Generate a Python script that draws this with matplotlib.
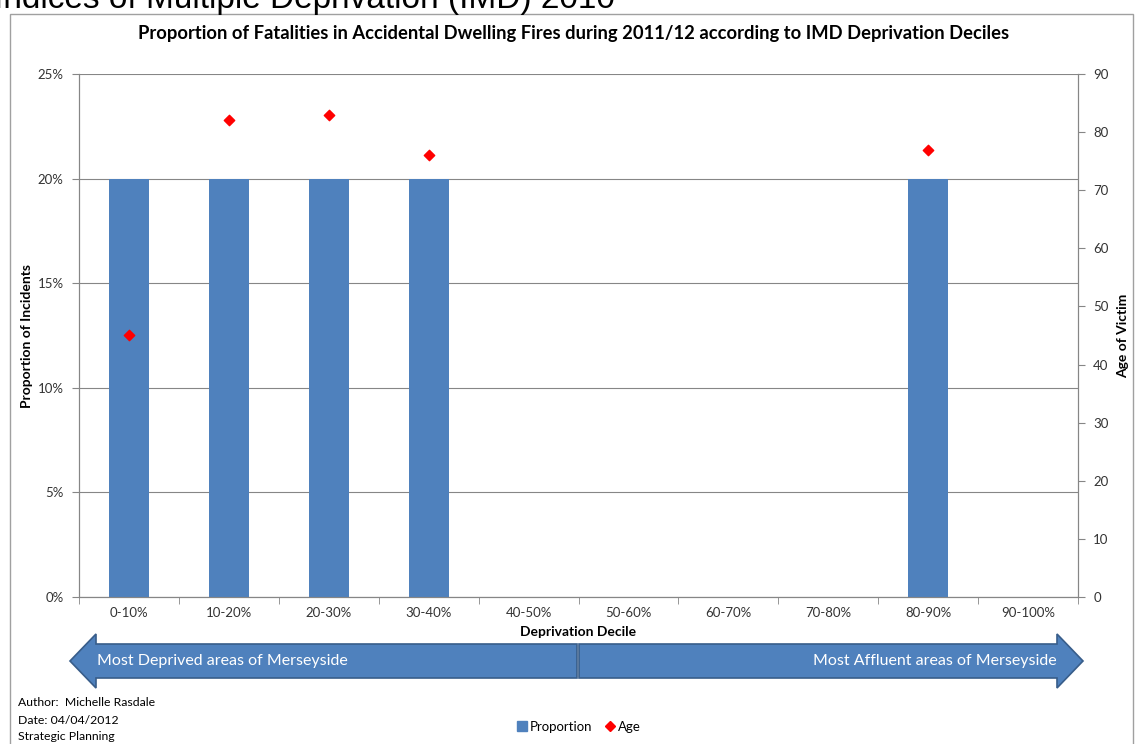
import matplotlib.pyplot as plt
from matplotlib.patches import FancyArrow, Rectangle
from matplotlib.lines import Line2D
from matplotlib.ticker import FuncFormatter

plt.rcParams['font.family'] = ['Lato', 'DejaVu Sans']

# data
deciles = ['0-10%', '10-20%', '20-30%', '30-40%', '40-50%',
           '50-60%', '60-70%', '70-80%', '80-90%', '90-100%']
proportion = [0.20, 0.20, 0.20, 0.20, 0, 0, 0, 0, 0.20, 0]
age_idx = [0, 1, 2, 3, 8]
age = [45, 82, 83, 76, 77]

W, H = 1138, 744
fig = plt.figure(figsize=(W / 100, H / 100), dpi=100)

def fx(px):
    return px / W

def fy(py):
    return 1 - py / H

ax = fig.add_axes([fx(79), fy(597), fx(1078) - fx(79), fy(74) - fy(597)])
ax2 = ax.twinx()

grey = '#868686'
bar_col = '#4f81bd'

x = list(range(len(deciles)))
ax.bar(x, proportion, width=0.4, color=bar_col, zorder=3)
ax.set_xlim(-0.5, len(deciles) - 0.5)
ax.set_ylim(0, 0.25)
ax.set_yticks([0, 0.05, 0.10, 0.15, 0.20, 0.25])
ax.yaxis.set_major_formatter(FuncFormatter(lambda v, p: f'{v * 100:.0f}%'))
ax.grid(axis='y', color=grey, linewidth=0.8, zorder=0)
ax.set_xticks(x)
ax.set_xticklabels(deciles)
ax.set_xticks([i + 0.5 for i in range(-1, len(deciles))], minor=True)
ax.tick_params(axis='x', which='major', length=0, pad=7, labelsize=9.5, colors='#333333')
ax.tick_params(axis='x', which='minor', length=5, color=grey)
ax.tick_params(axis='y', length=5, color=grey, labelsize=9.5, colors='#333333', pad=6)

ax2.scatter(age_idx, age, marker='D', s=28, color='#ff0000', zorder=4)
ax2.set_ylim(0, 90)
ax2.set_yticks(range(0, 91, 10))
ax2.tick_params(axis='y', length=5, color=grey, labelsize=9.5, colors='#333333', pad=6)

for a in (ax, ax2):
    a.spines['top'].set_visible(False)
    for s in ('left', 'right', 'bottom'):
        a.spines[s].set_color(grey)

ax.set_ylabel('Proportion of Incidents', fontsize=10, fontweight='bold', labelpad=3)
ax2.set_ylabel('Age of Victim', fontsize=10, fontweight='bold', labelpad=6)
ax.set_xlabel('Deprivation Decile', fontsize=10, fontweight='bold', labelpad=5)

fig.text(fx(574), fy(33), 'Proportion of Fatalities in Accidental Dwelling Fires during 2011/12 according to IMD Deprivation Deciles',
         ha='center', va='center', fontsize=13.2, fontweight='bold')

# clipped heading (cut off at the top edge as in the source) and frame
fig.text(fx(-6), fy(8), 'Indices of Multiple Deprivation (IMD) 2010', ha='left', va='baseline',
         fontsize=24, family='Liberation Sans')
fig.add_artist(Rectangle((fx(10), fy(760)), fx(1123), fy(14) - fy(760), fill=False,
                         edgecolor='#a0a0a0', linewidth=1, transform=fig.transFigure))

# arrows
ymid = fy(661)
body = (fy(645) - fy(679))
head_w = (fy(636) - fy(690))
fig.add_artist(FancyArrow(fx(577), ymid, fx(70) - fx(577), 0, width=body, head_width=head_w,
                          head_length=fx(26), length_includes_head=True,
                          facecolor=bar_col, edgecolor='#385d8a', linewidth=1.2,
                          transform=fig.transFigure))
fig.add_artist(FancyArrow(fx(579), ymid, fx(1083) - fx(579), 0, width=body, head_width=head_w,
                          head_length=fx(26), length_includes_head=True,
                          facecolor=bar_col, edgecolor='#385d8a', linewidth=1.2,
                          transform=fig.transFigure))
fig.text(fx(97), ymid, 'Most Deprived areas of Merseyside', ha='left', va='center',
         fontsize=11.5, color='white')
fig.text(fx(1057), ymid, 'Most Affluent areas of Merseyside', ha='right', va='center',
         fontsize=11.5, color='white')

# legend
handles = [Line2D([], [], marker='s', linestyle='', color=bar_col, markersize=7),
           Line2D([], [], marker='D', linestyle='', color='#ff0000', markersize=5)]
fig.legend(handles, ['Proportion', 'Age'], loc='center', bbox_to_anchor=(fx(578), fy(727)),
           ncol=2, frameon=False, fontsize=9.5, handletextpad=0.1, columnspacing=0.8,
           handlelength=1)

# footer
for i, t in enumerate(['Author:  Michelle Rasdale', 'Date: 04/04/2012', 'Strategic Planning']):
    fig.text(fx(18), fy(703 + 17 * i), t, ha='left', va='center', fontsize=8.8)

fig.savefig('out.png', dpi=100)
